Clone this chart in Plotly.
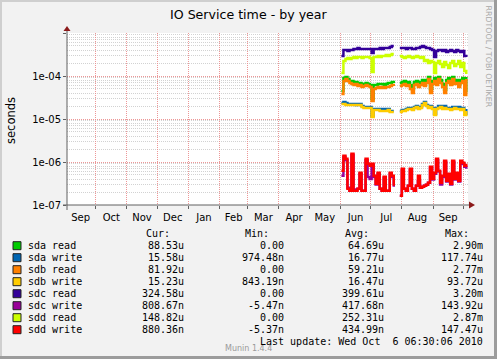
import pandas as pd
import plotly.graph_objects as go

# ---------------- data ----------------
# one sample every 2 days, from 2010-06-02; None marks the gap in late July
start_date = "2010-06-02"
n_points = 63
gap_idx = [27, 28]

# values in microseconds
sda_read_seg1 = [44.9,89.9,94.8,85.2,76.6,76.6,68.8,72.6,65.2,68.8,61.8,65.2,68.8,65.2,61.8,29.3,61.8,61.8,65.2,65.2,65.2,61.8,65.2,68.8,68.8,72.6,68.8]
sda_read_seg2 = [68.8,72.6,76.6,68.8,72.6,61.8,49.9,72.6,76.6,65.2,72.6,80.8,68.8,80.8,94.8,49.9,76.6,89.9,72.6,94.8,80.8,65.2,47.3,80.8,89.9,72.6,94.8,76.6,80.8,65.2,80.8,89.9,44.9,94.8]

sda_write_seg1 = [23.6,24.9,23.6,22.4,22.4,22.4,22.4,21.2,22.4,22.4,20.1,19.1,19.1,19.1,19.1,11.8,17.1,17.1,17.1,16.3,17.1,17.1,16.3,17.1,15.4,15.4,15.4]
sda_write_seg2 = [15.4,16.3,16.3,17.1,18.1,18.1,17.1,19.1,20.1,18.1,19.1,22.4,24.9,21.2,19.1,20.1,18.1,13.1,18.1,20.1,20.1,18.1,20.1,18.1,18.1,17.1,19.1,19.1,18.1,19.1,17.1,18.1,13.1,17.1]

sdb_read_seg1 = [38.2,76.6,85.2,76.6,68.8,65.2,61.8,65.2,58.6,61.8,55.6,58.6,61.8,58.6,55.6,26.3,49.9,52.7,55.6,52.7,55.6,52.7,55.6,55.6,58.6,61.8,58.6]
sdb_read_seg2 = [58.6,61.8,65.2,58.6,61.8,49.9,40.3,61.8,65.2,55.6,61.8,68.8,58.6,68.8,85.2,40.3,65.2,76.6,61.8,85.2,68.8,55.6,40.3,68.8,76.6,61.8,85.2,65.2,68.8,55.6,68.8,76.6,36.2,85.2]

sdb_write_seg1 = [22.4,22.4,21.2,21.2,21.2,21.2,21.2,21.2,21.2,21.2,19.1,18.1,18.1,18.1,18.1,11.2,16.3,16.3,16.3,15.4,15.4,15.4,15.4,16.3,14.6,14.6,14.6]
sdb_write_seg2 = [14.6,15.4,15.4,16.3,17.1,17.1,16.3,18.1,19.1,17.1,18.1,21.2,23.6,20.1,18.1,19.1,17.1,12.4,17.1,18.1,19.1,17.1,18.1,17.1,17.1,16.3,17.1,18.1,17.1,17.1,16.3,17.1,12.4,15.4]

sdc_read_seg1 = [291,401,401,380,401,401,423,423,447,423,423,423,423,423,423,342,423,423,423,447,423,447,447,447,472,497,497]
sdc_read_seg2 = [447,447,447,423,447,447,423,423,447,447,472,497,472,447,447,423,401,276,380,401,401,380,401,361,380,401,380,361,401,380,361,380,291,276]

sdc_write_seg1 = [0.478,1.30,1.10,0.252,0.215,1.45,0.215,0.228,0.239,0.53,0.215,0.215,1.10,0.45,0.40,0.85,0.45,0.30,0.53,0.239,0.215,0.43,0.215,0.215,0.53,0.45,0.266]
sdc_write_seg2 = [0.164,0.66,0.239,0.215,0.280,0.66,0.239,0.215,0.280,0.36,0.252,0.266,0.280,0.296,0.329,0.74,0.39,0.53,1.10,0.60,0.30,0.45,1.0,0.35,0.50,0.30,1.0,0.39,0.53,0.35,1.0,0.90,0.78,0.70]

sdd_read_seg1 = [117,223,248,262,248,262,276,262,276,276,262,276,276,276,262,124,276,276,291,276,291,291,307,291,307,324,324]
sdd_read_seg2 = [291,276,262,276,291,276,262,276,291,276,262,276,223,236,200,223,211,117,200,223,190,162,211,180,153,200,223,171,190,223,162,200,131,111]

sdd_write_seg1 = [0.625,1.39,1.19,0.239,0.215,1.55,0.215,0.215,0.239,0.562,0.215,0.215,1.19,0.908,0.816,0.908,0.478,0.312,0.562,0.239,0.215,0.453,0.215,0.215,0.562,0.478,0.280]
sdd_write_seg2 = [0.164,0.695,0.239,0.215,0.280,0.695,0.239,0.215,0.280,0.478,0.252,0.266,0.280,0.296,0.329,0.774,0.408,0.562,1.19,0.625,0.329,0.478,1.07,0.366,0.532,0.312,1.07,0.408,0.562,0.366,1.07,0.958,0.816,0.908]

series_names = ["sda read", "sda write", "sdb read", "sdb write",
                "sdc read", "sdc write", "sdd read", "sdd write"]
series_seg1 = [sda_read_seg1, sda_write_seg1, sdb_read_seg1, sdb_write_seg1,
               sdc_read_seg1, sdc_write_seg1, sdd_read_seg1, sdd_write_seg1]
series_seg2 = [sda_read_seg2, sda_write_seg2, sdb_read_seg2, sdb_write_seg2,
               sdc_read_seg2, sdc_write_seg2, sdd_read_seg2, sdd_write_seg2]
colors = ["#00CC00", "#0066B3", "#FF8000", "#FFCC00",
          "#330099", "#990099", "#CCFF00", "#FF0000"]

cur_vals = ["88.53u", "15.58u", "81.92u", "15.23u", "324.58u", "808.67n", "148.82u", "880.36n"]
min_vals = ["0.00", "974.48n", "0.00", "843.19n", "0.00", "-5.47n", "0.00", "-5.37n"]
avg_vals = ["64.69u", "16.77u", "59.21u", "16.47u", "399.61u", "417.68n", "252.31u", "434.99n"]
max_vals = ["2.90m", "117.74u", "2.77m", "93.72u", "3.20m", "143.92u", "2.87m", "147.47u"]

y_tickvals = [1e-7, 1e-6, 1e-5, 1e-4, 1e-3]
y_ticktext = ["1e-07", "1e-06", "1e-05", "1e-04", ""]
y_minor = [m * 10.0 ** e for e in range(-7, -3) for m in range(2, 10)]

x_range = ["2009-09-02 12:00", "2010-10-05 17:00"]

# ---------------- geometry helpers ----------------
W, H = 497, 359
L, R, T, B = 67, 468, 33, 205


def px(x):
    return (x - L) / (R - L)


def py(y):
    return (B - y) / (B - T)


dates = pd.date_range(start_date, periods=n_points, freq="2D")

fig = go.Figure()
for name, s1, s2, col in zip(series_names, series_seg1, series_seg2, colors):
    vals = s1 + [None] * len(gap_idx) + s2
    yv = [None if v is None else v * 1e-6 for v in vals]
    fig.add_trace(go.Scatter(x=dates, y=yv, mode="lines", name=name,
                             line=dict(color=col, width=2.5, shape="hv"),
                             connectgaps=False, showlegend=False,
                             hoverinfo="skip"))

grid_major = "rgba(235,140,140,0.9)"
grid_minor = "#D2D2D2"
axis_col = "#606060"
font_sans = "DejaVu Sans"
font_mono = "DejaVu Sans Mono"

fig.update_layout(
    width=W, height=H,
    margin=dict(l=L, r=W - R, t=T, b=H - B, pad=0, autoexpand=False),
    paper_bgcolor="#F2F2F2", plot_bgcolor="#FFFFFF",
    font=dict(family=font_sans, size=10, color="#000000"),
    hovermode=False,
    xaxis=dict(type="date", range=x_range, dtick="M1", tick0="2009-09-01",
               tickformat="%b", ticklabelmode="period",
               showgrid=True, gridcolor=grid_major, griddash="1px,1px", gridwidth=1,
               ticks="outside", ticklen=3, tickcolor=axis_col,
               showline=False, zeroline=False, automargin=False,
               tickfont=dict(family=font_sans, size=10, color="#000")),
    yaxis=dict(type="log", range=[-7, -3],
               tickmode="array", tickvals=y_tickvals, ticktext=y_ticktext,
               showgrid=True, gridcolor=grid_major, griddash="1px,1px", gridwidth=1,
               ticks="outside", ticklen=3, tickcolor=axis_col,
               showline=False, zeroline=False, automargin=False,
               tickfont=dict(family=font_sans, size=10, color="#000"),
               minor=dict(tickmode="array", tickvals=y_minor, showgrid=True,
                          gridcolor=grid_minor, griddash="1px,1px", ticks="")),
)

shapes = []
# axis lines
shapes.append(dict(type="line", xref="paper", yref="paper",
                   x0=px(67), x1=px(67), y0=py(210), y1=py(30),
                   line=dict(color=axis_col, width=1)))
shapes.append(dict(type="line", xref="paper", yref="paper",
                   x0=px(63), x1=px(470), y0=py(205), y1=py(205),
                   line=dict(color=axis_col, width=1)))
# arrowheads
arrow_col = "#8B1A1A"
shapes.append(dict(type="path", xref="paper", yref="paper",
                   path=f"M {px(63.5)} {py(31)} L {px(70.5)} {py(31)} L {px(67)} {py(26)} Z",
                   fillcolor=arrow_col, line=dict(color=arrow_col, width=0)))
shapes.append(dict(type="path", xref="paper", yref="paper",
                   path=f"M {px(469)} {py(201.5)} L {px(469)} {py(208.5)} L {px(475)} {py(205)} Z",
                   fillcolor=arrow_col, line=dict(color=arrow_col, width=0)))
# frame
shapes.append(dict(type="line", xref="paper", yref="paper",
                   x0=px(1), x1=px(1), y0=py(0), y1=py(359),
                   line=dict(color="#CFCFCF", width=2)))
shapes.append(dict(type="line", xref="paper", yref="paper",
                   x0=px(0), x1=px(497), y0=py(1), y1=py(1),
                   line=dict(color="#CFCFCF", width=2)))
shapes.append(dict(type="line", xref="paper", yref="paper",
                   x0=px(495.5), x1=px(495.5), y0=py(0), y1=py(359),
                   line=dict(color="#9C9C9C", width=3)))
shapes.append(dict(type="line", xref="paper", yref="paper",
                   x0=px(0), x1=px(497), y0=py(357.5), y1=py(357.5),
                   line=dict(color="#9C9C9C", width=3)))

annotations = []


def txt(text, x, y, xanchor="left", size=10, family=font_mono, color="#000", angle=0):
    annotations.append(dict(text=text, x=px(x), y=py(y), xref="paper", yref="paper",
                            xanchor=xanchor, yanchor="middle", showarrow=False,
                            textangle=angle, borderpad=0,
                            font=dict(family=family, size=size, color=color)))


# title and side texts
txt("IO Service time - by year", 248.5, 14, "center", 12.6, font_sans)
txt("seconds", 11, 121, "center", 11.5, font_sans, angle=-90)
txt("RRDTOOL / TOBI OETIKER", 488.5, 56, "center", 7.9, font_sans, "#A8A8A8", angle=90)

# legend header
for head, xr in zip(["Cur:", "Min:", "Avg:", "Max:"], [171, 270, 370, 470]):
    txt(head, xr, 233.5, "right")

row_y0, row_dy = 245.7, 12
for i, name in enumerate(series_names):
    yy = row_y0 + i * row_dy
    shapes.append(dict(type="rect", xref="paper", yref="paper",
                       x0=px(13), x1=px(21), y0=py(yy + 4), y1=py(yy - 4),
                       fillcolor=colors[i], line=dict(color="#222", width=1)))
    txt(name, 26.5, yy, "left")
    txt(cur_vals[i], 185.3, yy, "right")
    txt(min_vals[i], 285.3, yy, "right")
    txt(avg_vals[i], 384.5, yy, "right")
    txt(max_vals[i], 483.5, yy, "right")

txt("Munin 1.4.4", 248, 348, "center", 8, font_sans, "#9A9A9A")
txt("Last update: Wed Oct  6 06:30:06 2010", 483.5, 341.7, "right")

fig.update_layout(shapes=shapes, annotations=annotations)
fig.write_html("out.html", config={"displayModeBar": False, "staticPlot": True},
               post_script="document.body.style.margin='0';")
